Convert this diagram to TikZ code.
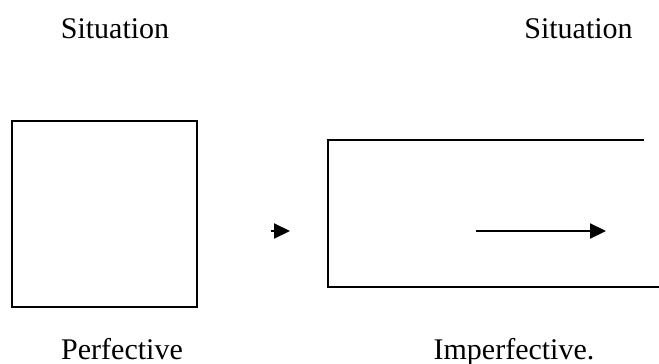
\documentclass[tikz,border=0pt]{standalone}
\usepackage{fontspec}
\setmainfont{Liberation Serif}
\usetikzlibrary{arrows.meta}
\begin{document}
\begin{tikzpicture}[x=1pt,y=-1pt,
  lbl/.style={anchor=base,inner sep=0pt,font=\fontsize{30}{36}\selectfont},
  frame/.style={draw=black,line width=2.2pt},
  arr/.style={line width=2.2pt,-{Triangle[length=16pt,width=15pt]}}]
\useasboundingbox (0,0) rectangle (659,364);
\node[lbl] (sitL) at (115,38) {Situation};
\node[lbl] (sitR) at (578.5,38) {Situation};
\node[lbl] (perf) at (122,359) {Perfective};
\node[lbl] (imperf) at (514,359) {Imperfective.};
\node[frame,minimum width=185pt,minimum height=186pt,inner sep=0pt] (sq) at (104.5,214) {};
\coordinate (rtl) at (328,140);
\coordinate (rtr) at (644,140);
\coordinate (rbl) at (328,287);
\coordinate (rbr) at (662,287);
\draw[frame,line cap=butt] (rtr) -- (rtl) -- (rbl) -- (rbr);
\coordinate (sa1) at (271,231);
\coordinate (sa2) at (290,231);
\draw[arr] (sa1) -- (sa2);
\coordinate (a1) at (476,231);
\coordinate (a2) at (606,231);
\draw[arr] (a1) -- (a2);
\end{tikzpicture}
\end{document}
